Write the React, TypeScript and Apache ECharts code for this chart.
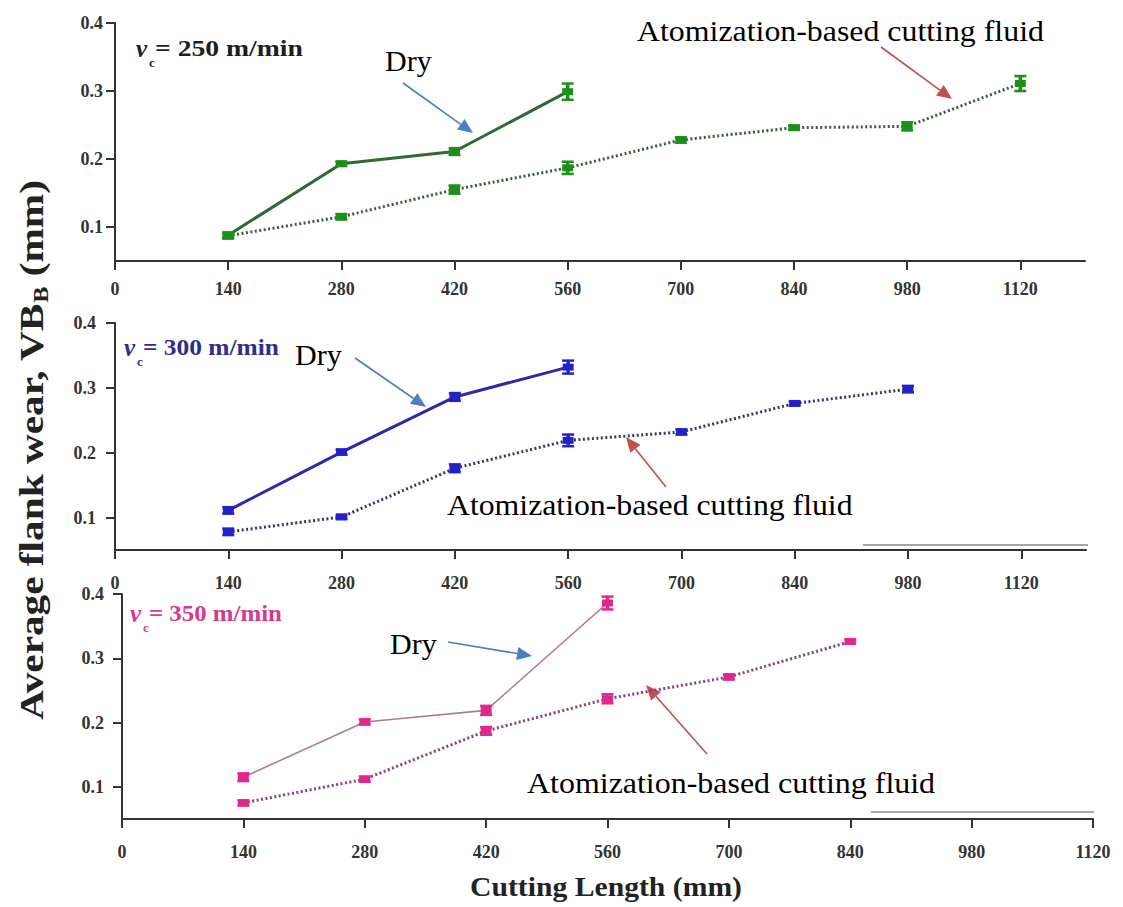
import React, { useEffect, useRef } from "react";
import * as echarts from "echarts";

// ---------- data ----------
const cuttingLength = [140, 280, 420, 560, 700, 840, 980, 1120];
const xTickValues = [0, 140, 280, 420, 560, 700, 840, 980, 1120];
const yTickValues = [0.1, 0.2, 0.3, 0.4];

// vc = 250 m/min
const dry250 = [0.088, 0.193, 0.211, 0.299];
const dry250Err = [0.004, 0.003, 0.005, 0.012];
const fluid250 = [0.087, 0.115, 0.155, 0.187, 0.228, 0.246, 0.248, 0.311];
const fluid250Err = [0.004, 0.004, 0.006, 0.009, 0.004, 0.003, 0.006, 0.011];

// vc = 300 m/min
const dry300 = [0.111, 0.201, 0.286, 0.332];
const dry300Err = [0.005, 0.004, 0.006, 0.01];
const fluid300 = [0.078, 0.101, 0.176, 0.219, 0.232, 0.276, 0.298];
const fluid300Err = [0.005, 0.003, 0.006, 0.009, 0.004, 0.003, 0.005];

// vc = 350 m/min
const dry350 = [0.115, 0.201, 0.219, 0.386];
const dry350Err = [0.006, 0.004, 0.007, 0.01];
const fluid350 = [0.075, 0.112, 0.187, 0.237, 0.271, 0.326];
const fluid350Err = [0.004, 0.004, 0.006, 0.007, 0.004, 0.003];

const SERIF = "Liberation Serif, serif";

function textWidth(text: string, font: string) {
  const c = document.createElement("canvas").getContext("2d")!;
  c.font = font;
  return c.measureText(text).width;
}

function label(
  text: string,
  x: number,
  y: number,
  font: string,
  fill: string,
  targetWidth?: number
) {
  const w = textWidth(text, font);
  const s = targetWidth ? targetWidth / w : 1;
  return {
    type: "text",
    x,
    y,
    scaleX: s,
    style: {
      text,
      font,
      fill,
      align: "left",
      verticalAlign: "middle",
      textAlign: "left",
      textVerticalAlign: "middle",
    },
  };
}

function arrow(x1: number, y1: number, x2: number, y2: number, color: string) {
  const ang = Math.atan2(y2 - y1, x2 - x1);
  const c = Math.cos(ang);
  const s = Math.sin(ang);
  const L = 15;
  const W = 6.5;
  const bx = x2 - L * c;
  const by = y2 - L * s;
  const px = -s * W;
  const py = c * W;
  return [
    {
      type: "line",
      shape: { x1, y1, x2: bx, y2: by },
      style: { stroke: color, lineWidth: 1.6 },
    },
    {
      type: "polygon",
      shape: {
        points: [
          [x2, y2],
          [bx + px, by + py],
          [bx - px, by - py],
        ],
      },
      style: { fill: color },
    },
  ];
}

function vcLabel(
  x: number,
  y: number,
  speed: string,
  color: string,
  restWidth: number
) {
  return [
    label("v", x, y, `italic bold 25px ${SERIF}`, color),
    label("c", x + 13, y + 14, `bold 13px ${SERIF}`, color),
    label(`= ${speed} m/min`, x + 19, y, `bold 24px ${SERIF}`, color, restWidth),
  ];
}

const panels = [
  {
    grid: { left: 115, top: 23, width: 970, height: 238 },
    xMax: 1200,
    dry: dry250,
    dryErr: dry250Err,
    fluid: fluid250,
    fluidErr: fluid250Err,
    marker: "#1c8f1c",
    dryLine: "#2f6a2f",
    dryWidth: 3,
    fluidLine: "#3b5c3b",
    xMargin: 19,
    yMargin: 12,
  },
  {
    grid: { left: 115, top: 323, width: 971, height: 227 },
    xMax: 1200,
    dry: dry300,
    dryErr: dry300Err,
    fluid: fluid300,
    fluidErr: fluid300Err,
    marker: "#2222c8",
    dryLine: "#2b2ba6",
    dryWidth: 3,
    fluidLine: "#35356e",
    xMargin: 24,
    yMargin: 19,
  },
  {
    grid: { left: 122, top: 594, width: 971, height: 225 },
    xMax: 1120,
    dry: dry350,
    dryErr: dry350Err,
    fluid: fluid350,
    fluidErr: fluid350Err,
    marker: "#e0288a",
    dryLine: "#b07a9a",
    dryWidth: 1.6,
    fluidLine: "#8a3f80",
    xMargin: 24,
    yMargin: 18,
  },
];

function errorBarSeries(idx: number, values: number[], errs: number[], color: string) {
  return {
    type: "custom",
    xAxisIndex: idx,
    yAxisIndex: idx,
    z: 5,
    encode: { x: 0, y: 1 },
    data: values.map((v, i) => [cuttingLength[i], v, errs[i]]),
    renderItem: (params: any, api: any) => {
      const x = api.value(0);
      const y = api.value(1);
      const e = api.value(2);
      const top = api.coord([x, y + e]);
      const bot = api.coord([x, y - e]);
      const hw = 6;
      return {
        type: "group",
        children: [
          {
            type: "line",
            shape: { x1: top[0], y1: top[1], x2: bot[0], y2: bot[1] },
            style: { stroke: color, lineWidth: 3.5 },
          },
          {
            type: "line",
            shape: { x1: top[0] - hw, y1: top[1], x2: top[0] + hw, y2: top[1] },
            style: { stroke: color, lineWidth: 2.5 },
          },
          {
            type: "line",
            shape: { x1: bot[0] - hw, y1: bot[1], x2: bot[0] + hw, y2: bot[1] },
            style: { stroke: color, lineWidth: 2.5 },
          },
        ],
      };
    },
  };
}

function buildOption() {
  const axisColor = "#333";
  const tickFont = { color: "#333", fontFamily: SERIF, fontWeight: "bold", fontSize: 18 };

  const grids = panels.map((p) => ({ ...p.grid, containLabel: false, outerBoundsMode: "none" }));
  const xAxes = panels.map((p, i) => ({
    gridIndex: i,
    type: "value",
    min: 0,
    max: p.xMax,
    axisLine: { show: true, onZero: false, lineStyle: { color: axisColor, width: 2 } },
    axisTick: { show: true, customValues: xTickValues, length: 9, lineStyle: { color: axisColor, width: 2 } },
    axisLabel: {
      customValues: xTickValues,
      margin: p.xMargin,
      formatter: (v: number) => String(v),
      ...tickFont,
    },
    splitLine: { show: false },
  }));
  const yAxes = panels.map((p, i) => ({
    gridIndex: i,
    type: "value",
    min: 0.05,
    max: 0.4,
    axisLine: { show: true, onZero: false, lineStyle: { color: axisColor, width: 2 } },
    axisTick: { show: true, customValues: yTickValues, length: 9, lineStyle: { color: axisColor, width: 2 } },
    axisLabel: {
      customValues: yTickValues,
      margin: p.yMargin,
      formatter: (v: number) => v.toFixed(1),
      ...tickFont,
    },
    splitLine: { show: false },
  }));

  const series: any[] = [];
  panels.forEach((p, i) => {
    series.push({
      type: "line",
      name: "Dry",
      xAxisIndex: i,
      yAxisIndex: i,
      data: p.dry.map((v, k) => [cuttingLength[k], v]),
      symbol: "rect",
      symbolSize: [11, 7],
      itemStyle: { color: p.marker },
      lineStyle: { color: p.dryLine, width: p.dryWidth, type: "solid" },
      z: 3,
    });
    series.push({
      type: "line",
      name: "Atomization-based cutting fluid",
      xAxisIndex: i,
      yAxisIndex: i,
      data: p.fluid.map((v, k) => [cuttingLength[k], v]),
      symbol: "rect",
      symbolSize: [11, 7],
      itemStyle: { color: p.marker },
      lineStyle: { color: p.fluidLine, width: 3, type: [2, 2.5] },
      z: 3,
    });
    series.push(errorBarSeries(i, p.dry, p.dryErr, p.marker));
    series.push(errorBarSeries(i, p.fluid, p.fluidErr, p.marker));
  });

  // y axis title pieces
  const yFont = `bold 34px ${SERIF}`;
  const ySubFont = `bold 20px ${SERIF}`;
  const t1 = "Average flank wear, VB";
  const t2 = "B";
  const t3 = " (mm)";
  const w1 = textWidth(t1, yFont);
  const w2 = textWidth(t2, ySubFont);
  const w3 = textWidth(t3, yFont);
  const W = w1 + w2 + w3;
  const yTitleLen = 540;
  const yTitle = {
    type: "group",
    x: 31,
    y: 450,
    rotation: Math.PI / 2,
    scaleX: yTitleLen / W,
    children: [
      { type: "text", x: -W / 2, y: 0, style: { text: t1, font: yFont, fill: "#222", align: "left", verticalAlign: "middle" } },
      { type: "text", x: -W / 2 + w1, y: 10, style: { text: t2, font: ySubFont, fill: "#222", align: "left", verticalAlign: "middle" } },
      { type: "text", x: -W / 2 + w1 + w2, y: 0, style: { text: t3, font: yFont, fill: "#222", align: "left", verticalAlign: "middle" } },
    ],
  };

  const annFont = `30px ${SERIF}`;
  const blue = "#4a7ec4";
  const red = "#c0504d";

  const elements: any[] = [
    yTitle,
    label("Cutting Length (mm)", 470, 886, `bold 28px ${SERIF}`, "#222", 272),
    // panel 1
    ...vcLabel(136, 48, "250", "#1e1e1e", 148),
    label("Dry", 385, 60, annFont, "#000"),
    ...arrow(403, 83, 473, 133, blue),
    label("Atomization-based cutting fluid", 637, 31, annFont, "#000", 407),
    ...arrow(881, 47, 952, 99, red),
    // panel 2
    ...vcLabel(124, 347, "300", "#2e2e8c", 136),
    label("Dry", 295, 354, annFont, "#000"),
    ...arrow(355, 358, 426, 407, blue),
    label("Atomization-based cutting fluid", 447, 505, annFont, "#000", 406),
    ...arrow(666, 487, 626, 437, red),
    { type: "line", shape: { x1: 863, y1: 545, x2: 1088, y2: 545 }, style: { stroke: "#888", lineWidth: 1.5 } },
    // panel 3
    ...vcLabel(130, 613, "350", "#d63a8a", 133),
    label("Dry", 390, 643, annFont, "#000"),
    ...arrow(448, 642, 532, 656, blue),
    label("Atomization-based cutting fluid", 527, 783, annFont, "#000", 408),
    ...arrow(707, 754, 646, 685, red),
    { type: "line", shape: { x1: 871, y1: 812, x2: 1094, y2: 812 }, style: { stroke: "#888", lineWidth: 1.5 } },
  ];

  return {
    animation: false,
    backgroundColor: "#ffffff",
    grid: grids,
    xAxis: xAxes,
    yAxis: yAxes,
    series,
    graphic: { elements },
  };
}

export default function App() {
  const ref = useRef<HTMLDivElement>(null);
  useEffect(() => {
    const chart = echarts.init(ref.current!, null, { renderer: "svg" });
    chart.setOption(buildOption() as any);
    return () => chart.dispose();
  }, []);
  return (
    <div
      ref={ref}
      style={{ position: "absolute", left: 0, top: 0, width: 1123, height: 907, background: "#fff" }}
    />
  );
}
